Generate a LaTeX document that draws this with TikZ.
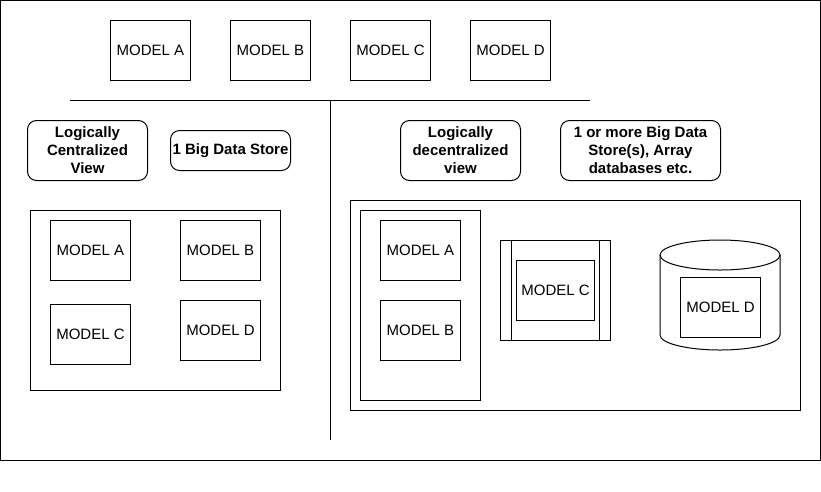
\documentclass[tikz,border=0pt]{standalone}
\usepackage{fontspec}
\setmainfont{Liberation Sans}
\usepackage{tikz}

\tikzset{
  model/.style={draw, line width=1pt, minimum width=80pt, minimum height=60pt,
    inner sep=0pt, anchor=north west, font=\fontsize{15}{18}\selectfont},
  viewbox/.style={draw, line width=1pt, rounded corners=9pt, inner sep=0pt,
    anchor=north west, align=center, font=\fontsize{15}{18}\selectfont\bfseries},
  frame/.style={draw, line width=1pt, inner sep=0pt, anchor=north west}
}

\begin{document}
\begin{tikzpicture}[x=1pt,y=-1pt,line width=1pt]
     \useasboundingbox (0,0) rectangle (821,491);
     \draw (0.5,0.5) rectangle (820,460);
     % top row of models
     \node[model] (ma) at (110,20) {MODEL A};
     \node[model] (mb) at (230,20) {MODEL B};
     \node[model] (mc) at (350,20) {MODEL C};
     \node[model] (md) at (470,20) {MODEL D};
     % dividing lines
     \coordinate (hl) at (70,100);
     \coordinate (hr) at (590,100);
     \coordinate (vt) at (330,100);
     \coordinate (vb) at (330,440);
     \draw (hl) -- (hr);
     \draw (vt) -- (vb);
     % centralized side
     \node[viewbox, minimum width=120pt, minimum height=60pt] (cview) at (27,120)
       {Logically\\Centralized\\View};
     \node[viewbox, minimum width=120pt, minimum height=40pt] (cstore) at (170,130)
       {1 Big Data Store};
     \node[frame, minimum width=250pt, minimum height=180pt] (cbox) at (30,210) {};
     \node[model] (ca) at (50,220) {MODEL A};
     \node[model] (cb) at (180,220) {MODEL B};
     \node[model] (cc) at (50,304) {MODEL C};
     \node[model] (cd) at (180,300) {MODEL D};
     % decentralized side
     \node[viewbox, minimum width=120pt, minimum height=60pt] (dview) at (400,120)
       {Logically\\decentralized\\view};
     \node[viewbox, minimum width=160pt, minimum height=60pt] (dstore) at (560,120)
       {1 or more Big Data\\Store(s), Array\\databases etc.};
     \node[frame, minimum width=450pt, minimum height=210pt] (dbox) at (350,200) {};
     \node[frame, minimum width=120pt, minimum height=190pt] (dgroup) at (360,210) {};
     \node[model] (da) at (380,220) {MODEL A};
     \node[model] (db) at (380,300) {MODEL B};
     % process shape
     \node[frame, minimum width=110pt, minimum height=100pt] (proc) at (500,240) {};
     \draw (511,240) -- (511,340);
     \draw (599,240) -- (599,340);
     \node[model, minimum width=78pt] (dc) at (516,260) {MODEL C};
     % cylinder
     \draw (660,255) -- (660,335) arc[start angle=180, end angle=360, x radius=60pt, y radius=15pt]
       -- (780,255);
     \draw (720,255) ellipse[x radius=60pt, y radius=15pt];
     \node[model] (dd) at (680,277) {MODEL D};
\end{tikzpicture}
\end{document}
